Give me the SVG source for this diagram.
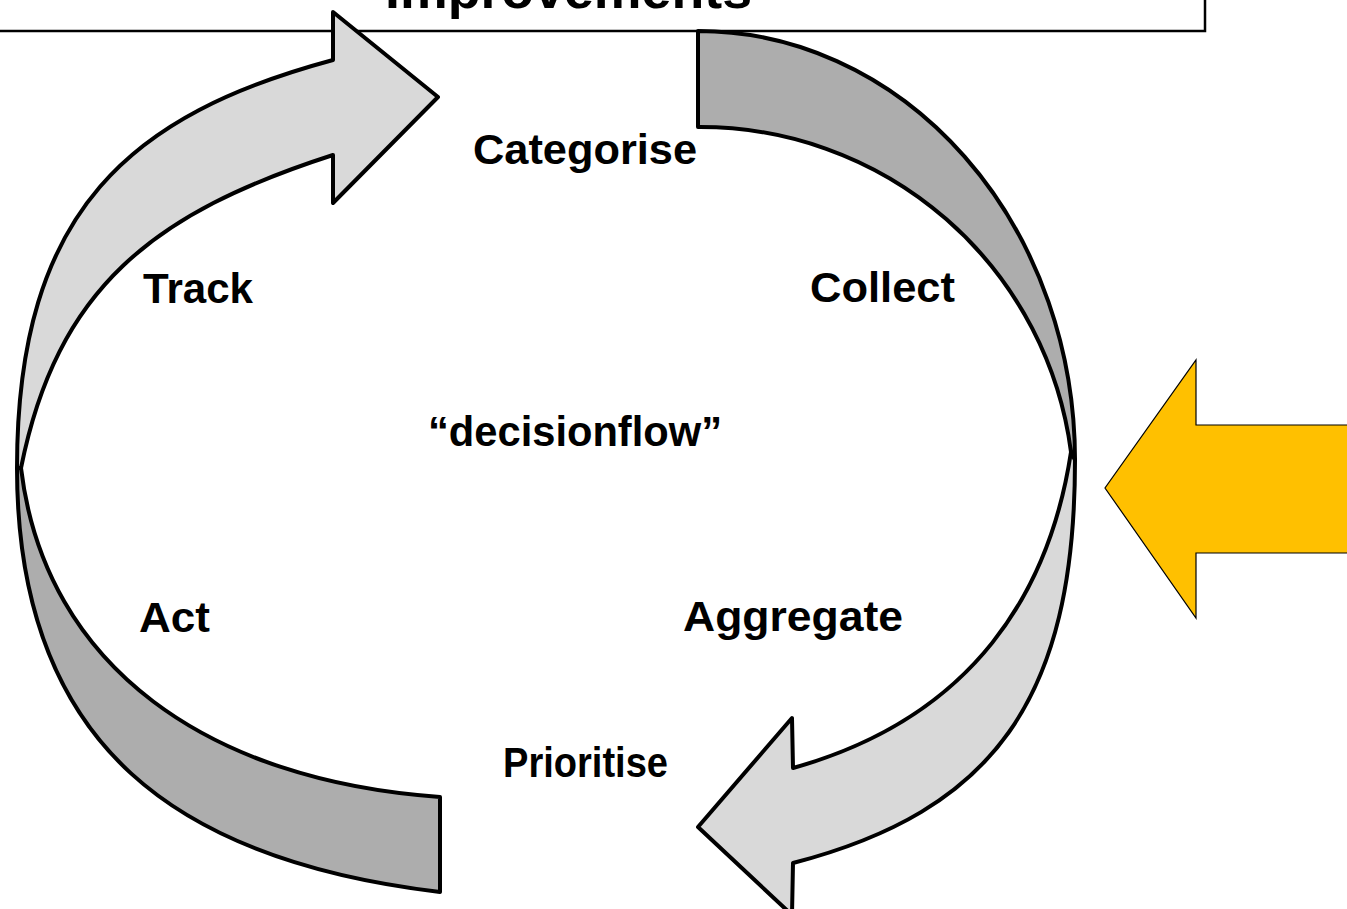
<svg xmlns="http://www.w3.org/2000/svg" width="1347" height="909" viewBox="0 0 1347 909">
<style>
.lbl{font-family:"Liberation Sans",Arial,sans-serif;font-weight:bold;font-size:42px;fill:#000}
.title{font-family:"Liberation Sans",Arial,sans-serif;font-weight:bold;font-size:52px;fill:#000}
.arr{stroke:#000;stroke-width:4;stroke-linejoin:round}
.light{fill:#d9d9d9}
.dark{fill:#adadad}
</style>
<rect width="1347" height="909" fill="#fff"/>
<g id="title-box">
<rect x="-10" y="-100" width="1215" height="131" fill="#fff" stroke="#000" stroke-width="2.5"/>
<text class="title" x="385" y="8" textLength="367" lengthAdjust="spacingAndGlyphs">Improvements</text>
</g>
<g id="cycle-arrows">
<path id="arrow-collect-back" class="arr dark" d="M698,31 A377,429 0 0 1 1075,460 L1071,452 A374,373 0 0 0 698,127 Z"/>
<path id="arrow-aggregate" class="arr light" d="M1075,460 C1075,700 993,811 793,863 L792,915 L698,827 L792,718 L793,768 C975,717 1050,590 1071,452 Z"/>
<path id="arrow-act-back" class="arr dark" d="M17,468 C17,748 180,861 440,892 L440,797 C210,781 45,668 21,468 Z"/>
<path id="arrow-track" class="arr light" d="M17,468 C17,208 133,114 333,60 L333,12 L438,97 L333,203 L333,155 C153,213 57,288 21,468 Z"/>
</g>
<g id="input-arrow">
<path d="M1360,425 L1196,425 L1196,360 L1105,488 L1196,618 L1196,553 L1360,553 Z" fill="#ffc000" stroke="#000" stroke-width="1.2"/>
</g>
<g id="labels">
<g id="categorise"><text class="lbl" x="473" y="164" textLength="224" lengthAdjust="spacingAndGlyphs">Categorise</text></g>
<g id="track"><text class="lbl" x="143" y="303" textLength="110" lengthAdjust="spacingAndGlyphs">Track</text></g>
<g id="collect"><text class="lbl" x="810" y="302" textLength="145" lengthAdjust="spacingAndGlyphs">Collect</text></g>
<g id="decisionflow"><text class="lbl" x="428" y="446" textLength="294" lengthAdjust="spacingAndGlyphs">“decisionflow”</text></g>
<g id="act"><text class="lbl" x="139" y="632" textLength="71" lengthAdjust="spacingAndGlyphs">Act</text></g>
<g id="aggregate"><text class="lbl" x="683" y="631" textLength="220" lengthAdjust="spacingAndGlyphs">Aggregate</text></g>
<g id="prioritise"><text class="lbl" x="503" y="777" textLength="165" lengthAdjust="spacingAndGlyphs">Prioritise</text></g>
</g>
</svg>
